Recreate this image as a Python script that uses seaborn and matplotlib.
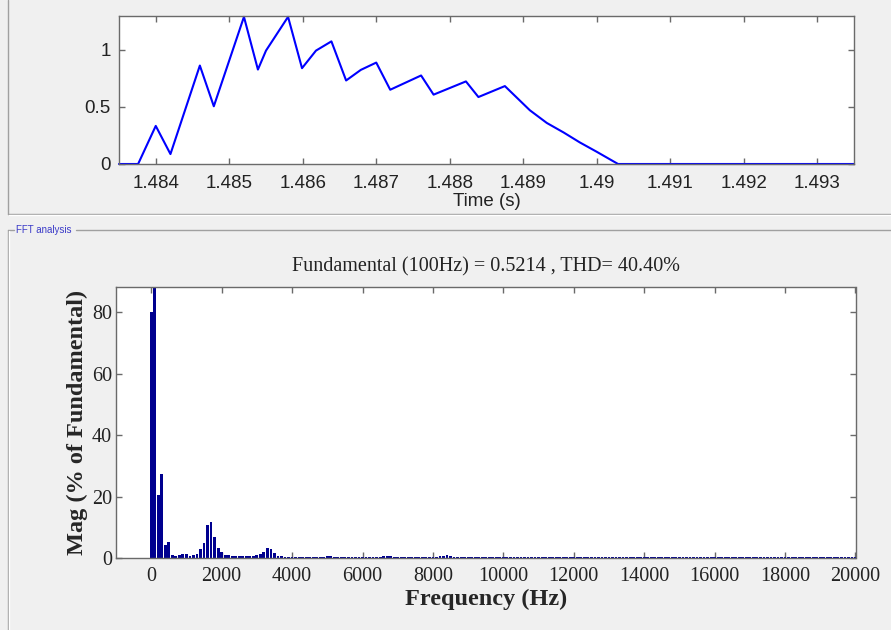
import numpy as np
import pandas as pd
import matplotlib
matplotlib.use("Agg")
import matplotlib.pyplot as plt
from matplotlib.lines import Line2D
import seaborn as sns

# ---- waveform over the analysis window (seconds, amplitude) ----
time_s = [1.4835, 1.48376, 1.48400, 1.48420, 1.48460, 1.48479, 1.48520,
          1.48539, 1.48550, 1.48580, 1.48599, 1.48618, 1.48639, 1.48659,
          1.48679, 1.48700, 1.48719, 1.48761, 1.48778, 1.48822, 1.48839,
          1.48875, 1.48909, 1.48932, 1.48955, 1.48977, 1.49000, 1.49029,
          1.4935]
signal = [0, 0, 0.334, 0.087, 0.863, 0.506, 1.29, 0.828, 0.994, 1.29,
          0.840, 0.994, 1.075, 0.732, 0.825, 0.889, 0.651, 0.776, 0.608,
          0.724, 0.587, 0.683, 0.471, 0.360, 0.276, 0.189, 0.107, 0, 0]
time_ticks = [1.484, 1.485, 1.486, 1.487, 1.488, 1.489, 1.490, 1.491, 1.492, 1.493]

# ---- harmonic spectrum, % of fundamental, bins every 100 Hz from DC ----
fundamental_hz = 100
mag_0_4k = [80, 100, 20.5, 27.5, 4.4,
            5.3, 1.0, 0.8, 1.0, 1.3, 1.3,
            0.8, 1.0, 1.3, 2.9, 4.9, 10.8, 11.9, 7.0, 3.2, 2.2,
            1.0, 1.0, 0.8, 0.6, 0.6, 0.8, 0.6, 0.6, 0.8, 1.0,
            1.3, 2.1, 3.5, 3.0, 1.6, 0.8, 0.8, 0.3, 0.3, 0.3]
mag_4k_10k = [0.3, 0.3, 0.3, 0.3, 0.3, 0.3, 0.4, 0.4, 0.5, 0.6,
              0.6, 0.5, 0.4, 0.3, 0.3, 0.3, 0.3, 0.3, 0.3, 0.3,
              0.3, 0.3, 0.3, 0.4, 0.5, 0.7, 0.9, 0.7, 0.5, 0.4,
              0.3, 0.3, 0.3, 0.3, 0.3, 0.3, 0.3, 0.3, 0.3, 0.4,
              0.4, 0.6, 0.9, 1.0, 0.7, 0.5, 0.4, 0.3, 0.3, 0.3,
              0.3, 0.3, 0.3, 0.3, 0.3, 0.3, 0.3, 0.3, 0.4, 0.4]
mag_10k_20k = [0.4, 0.3, 0.3, 0.3, 0.3, 0.3, 0.3, 0.3, 0.3, 0.3,
               0.3, 0.3, 0.3, 0.3, 0.3, 0.4, 0.4, 0.3, 0.3, 0.3,
               0.3, 0.3, 0.3, 0.3, 0.3, 0.3, 0.3, 0.3, 0.3, 0.3,
               0.3, 0.3, 0.4, 0.3, 0.3, 0.3, 0.3, 0.3, 0.3, 0.3,
               0.3, 0.3, 0.3, 0.3, 0.3, 0.3, 0.3, 0.3, 0.4, 0.3,
               0.3, 0.3, 0.3, 0.3, 0.3, 0.3, 0.3, 0.3, 0.3, 0.3,
               0.3, 0.3, 0.3, 0.3, 0.3, 0.4, 0.3, 0.3, 0.3, 0.3,
               0.3, 0.3, 0.3, 0.3, 0.3, 0.3, 0.3, 0.3, 0.3, 0.3,
               0.3, 0.4, 0.3, 0.3, 0.3, 0.3, 0.3, 0.3, 0.3, 0.3,
               0.3, 0.3, 0.3, 0.3, 0.3, 0.3, 0.3, 0.3, 0.4, 0.3]
magnitude = mag_0_4k + mag_4k_10k + mag_10k_20k
frequency = [k * fundamental_hz for k in range(len(magnitude))]
freq_ticks = list(range(0, 20001, 2000))
mag_ticks = [0, 20, 40, 60, 80]
title_text = "Fundamental (100Hz) = 0.5214 , THD= 40.40%"

sns.set_style("ticks")
BG = "#f0f0f0"
SPINE = "#6a6a6a"
SANS = ["Liberation Sans", "DejaVu Sans"]
SERIF = ["Liberation Serif", "DejaVu Serif"]
plt.rcParams["font.family"] = SANS

W, H = 891, 630
fig = plt.figure(figsize=(W / 100, H / 100), dpi=100, facecolor=BG)


def rect(l, t, r, b):
    return [l / W, 1 - b / H, (r - l) / W, (b - t) / H]


def fig_line(x0, y0, x1, y1, color):
    fig.add_artist(Line2D([x0 / W, x1 / W], [1 - y0 / H, 1 - y1 / H],
                          transform=fig.transFigure, color=color, lw=1))


# panel borders
fig_line(8, 0, 8, 214, "#a0a0a0")
fig_line(8, 214, W, 214, "#a0a0a0")
fig_line(9, 215, W, 215, "#ffffff")
fig_line(8, 230, 14, 230, "#a0a0a0")
fig_line(76, 230, W, 230, "#a0a0a0")
fig_line(8, 230, 8, H, "#a0a0a0")
fig_line(9, 231, 9, H, "#ffffff")
fig.text(16 / W, 1 - 230 / H, "FFT analysis", color="#3a3ac8", fontsize=7,
         family=SANS, va="center", ha="left")


def style_axes(ax):
    ax.set_facecolor("white")
    for s in ax.spines.values():
        s.set_visible(True)
        s.set_color(SPINE)
        s.set_linewidth(1.0)
    ax.tick_params(which="both", direction="in", length=4, width=1,
                   color=SPINE, top=True, right=True)


# ---- waveform ----
ax_t = fig.add_axes(rect(119, 15.7, 854, 164))
sns.lineplot(x=time_s, y=signal, ax=ax_t, color="#0000ff", linewidth=1.5,
             clip_on=False)
style_axes(ax_t)
ax_t.set_xlim(1.4835, 1.4935)
ax_t.set_ylim(0, 1.30)
ax_t.set_xticks(time_ticks)
ax_t.set_xticklabels([f"{v:g}" for v in time_ticks])
ax_t.set_yticks([0, 0.5, 1])
ax_t.set_yticklabels(["0", "0.5", "1"])
ax_t.tick_params(axis="x", labelsize=13.5, pad=8, labelcolor="#222222")
ax_t.tick_params(axis="y", labelsize=13.5, pad=6, labelcolor="#222222")
ax_t.set_xlabel("Time (s)", fontsize=13.5, labelpad=1, color="#222222")
ax_t.set_ylabel("")

# ---- harmonic spectrum ----
ax_f = fig.add_axes(rect(116, 286.5, 855.5, 558.3))
spec = pd.DataFrame({"Frequency": frequency, "Magnitude": magnitude})
sns.barplot(data=spec, x="Frequency", y="Magnitude", ax=ax_f,
            native_scale=True, color="#00008f", saturation=1, width=0.8,
            errorbar=None, linewidth=0)
style_axes(ax_f)
ax_f.set_xlim(-1000, 20000)
ax_f.set_ylim(0, 88.3)
ax_f.set_xticks(freq_ticks)
ax_f.set_xticklabels([str(v) for v in freq_ticks])
ax_f.set_yticks(mag_ticks)
ax_f.set_yticklabels([str(v) for v in mag_ticks])
for lab in ax_f.get_xticklabels() + ax_f.get_yticklabels():
    lab.set_family(SERIF)
ax_f.tick_params(axis="x", labelsize=14.5, pad=6, labelcolor="#222222")
ax_f.tick_params(axis="y", labelsize=14.5, pad=3, labelcolor="#222222")
ax_f.set_xlabel("Frequency (Hz)", fontsize=17.5, fontweight="bold",
                family=SERIF, labelpad=2)
ax_f.set_ylabel("Mag (% of Fundamental)", fontsize=17.5, fontweight="bold",
                family=SERIF, labelpad=3)
ax_f.set_title(title_text, fontsize=14.5, family=SERIF, pad=11,
               color="#222222")

fig.savefig("out.png", dpi=100, facecolor=BG)
